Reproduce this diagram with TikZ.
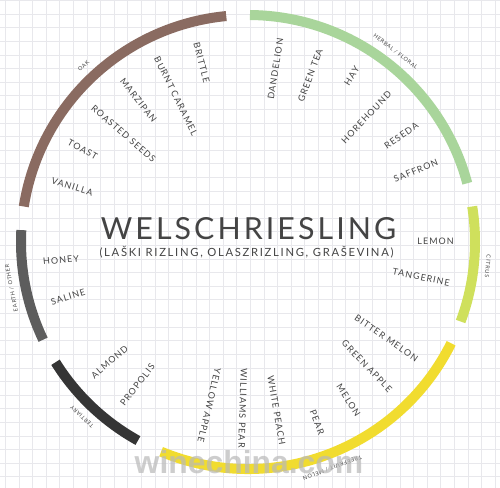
\documentclass[tikz,border=0pt]{standalone}
\usepackage{fontspec}
\setmainfont{Lato}
\newfontfamily\flavourfont{Lato}[LetterSpace=12]
\newfontfamily\titlefont{Lato}[LetterSpace=10]
\newfontfamily\subtitlefont{Lato}[LetterSpace=15]
\newfontfamily\markfont{Liberation Sans}
\definecolor{oak}{HTML}{8A6B61}
\definecolor{herbal}{HTML}{A9D59B}
\definecolor{citrus}{HTML}{CFE05C}
\definecolor{treefruit}{HTML}{F1DC2F}
\definecolor{earth}{HTML}{5D5D5D}
\definecolor{tertiary}{HTML}{353535}
\definecolor{ink}{HTML}{444444}
\definecolor{gridgray}{HTML}{E8E8EC}
\tikzset{
    band/.style={line width=10bp},
    flavour/.style={font=\flavourfont\fontsize{9}{9}\selectfont, text=ink, inner sep=0pt},
    inward/.style={flavour, anchor=west},
    outward/.style={flavour, anchor=east},
    family/.style={font=\flavourfont\fontsize{5.5}{5.5}\selectfont, text=ink, inner sep=0pt},
    gridline/.style={draw=gridgray, line width=0.6bp},
    watermark/.style={font=\markfont\bfseries\fontsize{32}{32}\selectfont, text=gray!55, opacity=0.7, inner sep=0pt}
}
\begin{document}
\begin{tikzpicture}[x=1bp, y=1bp]
            \useasboundingbox (-248,-246) rectangle (252,242);
            \fill[white] (-248,-246) rectangle (252,242);
            % ---- background grid
            \begin{scope}
            \clip (-248,-246) rectangle (252,242);
            \draw[gridline, shift={(2.2,10.2)}] (-270,-270) grid[step=13.6] (270,270);
            \end{scope}
            % ---- ring
            \draw[band, draw=treefruit] (-112.5:227) arc[start angle=-112.5, end angle=-26.5, radius=227];
            \draw[band, draw=citrus] (-20.5:227) arc[start angle=-20.5, end angle=9, radius=227];
            \draw[band, draw=herbal] (15:227) arc[start angle=15, end angle=89.5, radius=227];
            \draw[band, draw=oak] (95.5:227) arc[start angle=95.5, end angle=171, radius=227];
            \draw[band, draw=earth] (177:227) arc[start angle=177, end angle=205.5, radius=227];
            \draw[band, draw=tertiary] (212:227) arc[start angle=212, end angle=241, radius=227];
            % ---- families
            \node[family, rotate=43] (oakfam) at (133:241) {OAK};
            \node[family, rotate=-37.75] (herbalfam) at (52.25:241) {HERBAL / FLORAL};
            \node[family, rotate=-95.75] (citrusfam) at (-5.75:241) {CITRUS};
            \node[family, rotate=-159.5] (treefam) at (-69.5:241) {TREEFRUIT / MELON};
            \node[family, rotate=101] (earthfam) at (191:241) {EARTH / OTHER};
            \node[family, rotate=136.5] (tertfam) at (226.5:241) {TERTIARY};
            % ---- oak
            \node[inward, rotate=284.5] (brittle) at (104.5:206) {BRITTLE};
            \node[inward, rotate=296.3] (caramel) at (116.3:206) {BURNT CARAMEL};
            \node[inward, rotate=307.7] (marzipan) at (127.7:206) {MARZIPAN};
            \node[inward, rotate=319] (seeds) at (139:206) {ROASTED SEEDS};
            \node[inward, rotate=330.7] (toast) at (150.7:206) {TOAST};
            \node[inward, rotate=342.5] (vanilla) at (162.5:206) {VANILLA};
            % ---- herbal / floral
            \node[outward, rotate=81] (dandelion) at (81:206) {DANDELION};
            \node[outward, rotate=69.5] (greentea) at (69.5:206) {GREEN TEA};
            \node[outward, rotate=58] (hay) at (58:206) {HAY};
            \node[outward, rotate=46.5] (horehound) at (46.5:206) {HOREHOUND};
            \node[outward, rotate=34.7] (reseda) at (34.7:206) {RESEDA};
            \node[outward, rotate=23] (saffron) at (23:206) {SAFFRON};
            % ---- citrus
            \node[outward, rotate=0.3] (lemon) at (0.3:206) {LEMON};
            \node[outward, rotate=-11.5] (tangerine) at (-11.5:206) {TANGERINE};
            % ---- treefruit / melon
            \node[outward, rotate=-34.8] (bittermelon) at (-34.8:206) {BITTER MELON};
            \node[outward, rotate=-46.2] (greenapple) at (-46.2:206) {GREEN APPLE};
            \node[outward, rotate=-57.6] (melon) at (-57.6:206) {MELON};
            \node[outward, rotate=-69] (pear) at (-69:206) {PEAR};
            \node[outward, rotate=-80.4] (whitepeach) at (-80.4:206) {WHITE PEACH};
            \node[outward, rotate=-91.8] (williams) at (-91.8:206) {WILLIAMS PEAR};
            \node[outward, rotate=-103.3] (yellowapple) at (-103.3:206) {YELLOW APPLE};
            % ---- earth / other
            \node[inward, rotate=5.5] (honey) at (185.5:206) {HONEY};
            \node[inward, rotate=17] (saline) at (197:206) {SALINE};
            % ---- tertiary
            \node[inward, rotate=40.9] (almond) at (220.9:206) {ALMOND};
            \node[inward, rotate=52.3] (propolis) at (232.3:206) {PROPOLIS};
            % ---- title
            \node[font=\titlefont\fontsize{30.5}{30.5}\selectfont, text=ink, inner sep=0pt, anchor=base] (title) at (0.5,2) {WELSCHRIESLING};
            \node[font=\subtitlefont\fontsize{11.3}{11.3}\selectfont, text=ink, inner sep=0pt, anchor=base] (subtitle) at (-1.5,-15) {(LAŠKI RIZLING, OLASZRIZLING, GRAŠEVINA)};
            % ---- watermark
            \node[watermark, anchor=base] (mark) at (1,-231) {winechina.com};
        \end{tikzpicture}
\end{document}
